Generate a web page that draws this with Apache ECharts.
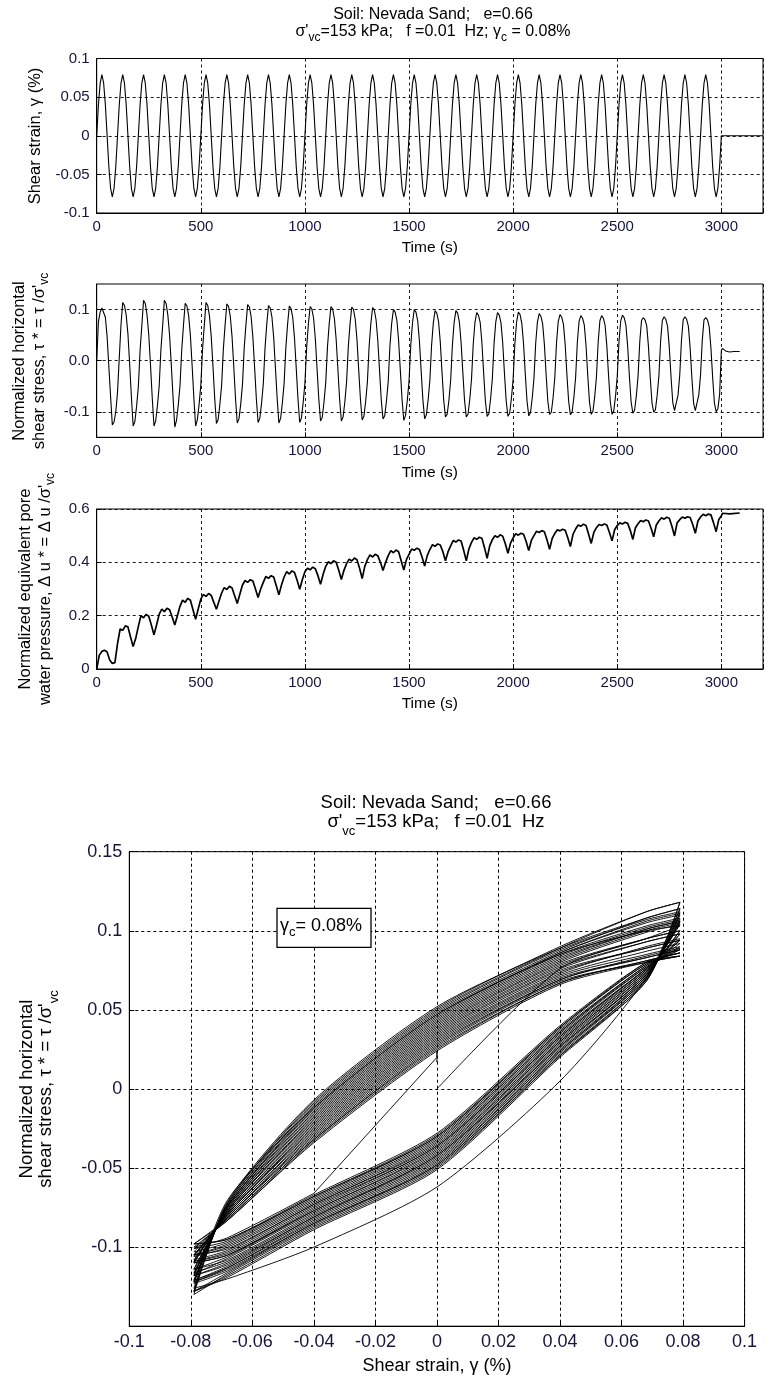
<!DOCTYPE html>
<html><head><meta charset="utf-8">
<script src="https://cdn.jsdelivr.net/npm/echarts@6/dist/echarts.min.js"></script>
<style>html,body{margin:0;padding:0;background:#fff}#c{width:766px;height:1381px}</style>
</head><body><div id="c"></div>
<script>
// ---------------- DATA ----------------
// start time (s) of each of the 30 loading cycles (f = 0.01 Hz)
const cycleStart = [0,100,200,300,400,500,600,700,800,900,1000,1100,1200,1300,1400,1500,1600,1700,1800,1900,2000,2100,2200,2300,2400,2500,2600,2700,2800,2900];
// sampling instants inside one cycle (s) for strain / stress
const phaseTime = [0,8.33,16.67,25,33.33,41.67,50,58.33,66.67,75,83.33,91.67];
// shear strain (%) at those instants (strain-controlled, same every cycle)
const strainCycle = [0,0.040,0.068,0.079,0.068,0.040,0,-0.040,-0.068,-0.079,-0.068,-0.040];
// normalized shear stress at those instants, one row per cycle
const stressCycles = [
  [0.000,0.076,0.095,0.103,0.100,0.085,0.047,-0.012,-0.070,-0.126,-0.120,-0.100],
  [-0.062,0.005,0.070,0.114,0.108,0.089,0.052,-0.007,-0.071,-0.128,-0.119,-0.089],
  [-0.051,0.020,0.068,0.118,0.112,0.090,0.051,-0.008,-0.072,-0.128,-0.118,-0.088],
  [-0.050,0.021,0.068,0.118,0.112,0.089,0.050,-0.009,-0.072,-0.130,-0.117,-0.087],
  [-0.049,0.021,0.069,0.112,0.107,0.088,0.049,-0.010,-0.073,-0.128,-0.116,-0.086],
  [-0.048,0.022,0.069,0.114,0.108,0.087,0.048,-0.011,-0.073,-0.123,-0.115,-0.085],
  [-0.048,0.023,0.070,0.111,0.106,0.086,0.047,-0.012,-0.074,-0.122,-0.114,-0.085],
  [-0.047,0.024,0.070,0.110,0.105,0.086,0.046,-0.013,-0.074,-0.121,-0.113,-0.084],
  [-0.046,0.024,0.071,0.108,0.103,0.085,0.045,-0.014,-0.074,-0.122,-0.113,-0.083],
  [-0.045,0.025,0.071,0.107,0.102,0.084,0.044,-0.015,-0.075,-0.121,-0.112,-0.082],
  [-0.044,0.026,0.072,0.106,0.101,0.083,0.043,-0.016,-0.075,-0.118,-0.111,-0.081],
  [-0.043,0.027,0.072,0.106,0.101,0.082,0.042,-0.017,-0.076,-0.118,-0.110,-0.081],
  [-0.042,0.027,0.072,0.105,0.100,0.081,0.041,-0.018,-0.076,-0.116,-0.109,-0.080],
  [-0.042,0.028,0.073,0.104,0.099,0.080,0.040,-0.019,-0.077,-0.114,-0.108,-0.079],
  [-0.041,0.029,0.073,0.100,0.095,0.079,0.039,-0.020,-0.077,-0.117,-0.107,-0.078],
  [-0.040,0.030,0.074,0.100,0.095,0.078,0.038,-0.021,-0.077,-0.114,-0.106,-0.077],
  [-0.039,0.030,0.074,0.098,0.093,0.077,0.037,-0.022,-0.078,-0.110,-0.105,-0.077],
  [-0.038,0.031,0.075,0.098,0.093,0.076,0.036,-0.023,-0.078,-0.110,-0.105,-0.076],
  [-0.037,0.032,0.075,0.094,0.089,0.075,0.035,-0.024,-0.079,-0.109,-0.104,-0.075],
  [-0.036,0.033,0.076,0.094,0.089,0.074,0.034,-0.025,-0.079,-0.109,-0.103,-0.074],
  [-0.036,0.033,0.076,0.095,0.090,0.073,0.033,-0.026,-0.079,-0.108,-0.102,-0.073],
  [-0.035,0.034,0.076,0.092,0.087,0.072,0.032,-0.027,-0.080,-0.105,-0.101,-0.073],
  [-0.034,0.035,0.077,0.090,0.085,0.071,0.031,-0.028,-0.080,-0.106,-0.100,-0.072],
  [-0.033,0.036,0.077,0.088,0.083,0.070,0.030,-0.029,-0.081,-0.105,-0.099,-0.071],
  [-0.032,0.036,0.078,0.088,0.083,0.069,0.029,-0.030,-0.081,-0.105,-0.098,-0.070],
  [-0.031,0.037,0.078,0.089,0.084,0.069,0.028,-0.031,-0.081,-0.103,-0.097,-0.069],
  [-0.030,0.038,0.079,0.084,0.080,0.068,0.027,-0.032,-0.082,-0.101,-0.096,-0.068],
  [-0.030,0.039,0.079,0.086,0.081,0.067,0.026,-0.032,-0.082,-0.098,-0.095,-0.068],
  [-0.029,0.039,0.080,0.086,0.081,0.067,0.025,-0.033,-0.083,-0.098,-0.095,-0.067],
  [-0.028,0.040,0.080,0.084,0.080,0.066,0.024,-0.034,-0.083,-0.100,-0.094,-0.066]
];
// sampling instants inside one cycle (s) for pore pressure
const porePhaseTime = [0,12.5,25,37.5,50,62.5,75,87.5];
// normalized equivalent pore water pressure at those instants, one row per cycle
const poreCycles = [
  [0.000,0.052,0.066,0.070,0.064,0.034,0.021,0.024],
  [0.095,0.150,0.145,0.162,0.158,0.120,0.084,0.115],
  [0.160,0.200,0.192,0.205,0.198,0.165,0.128,0.165],
  [0.205,0.225,0.215,0.228,0.222,0.195,0.165,0.200],
  [0.235,0.258,0.250,0.265,0.258,0.222,0.186,0.225],
  [0.262,0.280,0.272,0.283,0.276,0.250,0.224,0.255],
  [0.285,0.305,0.298,0.310,0.304,0.275,0.246,0.280],
  [0.315,0.332,0.325,0.335,0.330,0.300,0.268,0.300],
  [0.325,0.347,0.340,0.350,0.345,0.312,0.278,0.315],
  [0.345,0.365,0.356,0.368,0.362,0.333,0.299,0.335],
  [0.365,0.378,0.372,0.382,0.376,0.350,0.318,0.355],
  [0.385,0.402,0.395,0.406,0.400,0.370,0.336,0.370],
  [0.395,0.412,0.405,0.416,0.410,0.378,0.339,0.385],
  [0.410,0.428,0.420,0.430,0.425,0.400,0.369,0.400],
  [0.425,0.444,0.436,0.446,0.440,0.405,0.371,0.410],
  [0.430,0.450,0.445,0.453,0.448,0.420,0.386,0.425],
  [0.448,0.466,0.460,0.469,0.465,0.440,0.406,0.440],
  [0.462,0.482,0.476,0.484,0.480,0.445,0.406,0.450],
  [0.475,0.492,0.486,0.494,0.490,0.455,0.415,0.462],
  [0.485,0.500,0.494,0.503,0.498,0.470,0.434,0.472],
  [0.492,0.507,0.502,0.509,0.505,0.478,0.444,0.482],
  [0.500,0.517,0.512,0.519,0.515,0.485,0.449,0.490],
  [0.508,0.522,0.518,0.524,0.520,0.492,0.459,0.505],
  [0.525,0.540,0.535,0.543,0.538,0.505,0.471,0.512],
  [0.530,0.542,0.538,0.544,0.540,0.512,0.481,0.522],
  [0.538,0.548,0.544,0.550,0.546,0.520,0.486,0.530],
  [0.545,0.557,0.552,0.559,0.555,0.528,0.496,0.540],
  [0.555,0.567,0.562,0.569,0.565,0.535,0.499,0.548],
  [0.560,0.570,0.565,0.571,0.568,0.542,0.509,0.555],
  [0.570,0.580,0.575,0.581,0.578,0.548,0.515,0.560]
];
// after the last cycle (t >= 3000 s)
const strainTail = [[3000,0],[3200,0]];
const stressTail = [[3000,0.020],[3005,0.024],[3020,0.019],[3040,0.017],[3060,0.018],[3088,0.018]];
const poreTail = [[3000,0.575],[3006,0.584],[3040,0.582],[3088,0.585]];
// tick values
const stressTicks = [-0.1,0,0.1];

// ---------------- build series tables ----------------
const strainSeries = [], stressSeries = [], poreSeries = [], loopSeries = [];
cycleStart.forEach((t0,k) => {
  phaseTime.forEach((dt,j) => {
    strainSeries.push([t0 + dt, strainCycle[j]]);
    stressSeries.push([t0 + dt, stressCycles[k][j]]);
    loopSeries.push([strainCycle[j], stressCycles[k][j]]);
  });
  porePhaseTime.forEach((dt,j) => poreSeries.push([t0 + dt, poreCycles[k][j]]));
});
const loopTailSeries = [loopSeries[loopSeries.length - 1]];
strainTail.forEach(p => strainSeries.push(p));
stressTail.forEach(p => { stressSeries.push(p); loopTailSeries.push([strainTail[0][1], p[1]]); });
poreTail.forEach(p => poreSeries.push(p));

// ---------------- styling ----------------
const FONT = '"Liberation Sans", Arial, sans-serif';
const LBL = '#15153d';
const fmt = v => String(parseFloat(v.toFixed(3)));
const gridLine = (w) => ({show:true, lineStyle:{color:'#000', type:[3,3], width:w||0.9}});
const axisLineS = {show:true, onZero:false, lineStyle:{color:'#000', width:1}};
const tickS = {show:true, inside:true, length:5, lineStyle:{color:'#000'}};

function timeX(i){
  return {gridIndex:i, type:'value', min:0, max:3200, interval:500,
    axisLine:axisLineS, axisTick:tickS,
    axisLabel:{margin:6, color:LBL, fontFamily:FONT, fontSize:15, formatter:v => v>3000 ? '' : String(v)},
    splitLine:gridLine(),
    name:'Time (s)', nameLocation:'middle', nameGap:27,
    nameTextStyle:{color:'#000', fontFamily:FONT, fontSize:15.5}};
}

const option = {
  animation:false,
  backgroundColor:'#fff',
  grid:[
    {left:96.7, width:672.3, top:58.5, height:154.5, show:true, borderColor:'#000', borderWidth:1},
    {left:96.7, width:672.3, top:284, height:153.3, show:true, borderColor:'#000', borderWidth:1},
    {left:96.7, width:672.3, top:509, height:160, show:true, borderColor:'#000', borderWidth:1},
    {left:129.3, width:615.3, top:851.7, height:474.5, show:true, borderColor:'#000', borderWidth:1}
  ],
  xAxis:[
    timeX(0), timeX(1), timeX(2),
    {gridIndex:3, type:'value', min:-0.1, max:0.1, interval:0.02,
      axisLine:axisLineS, axisTick:tickS,
      axisLabel:{margin:7, color:LBL, fontFamily:FONT, fontSize:18, formatter:fmt},
      splitLine:gridLine(1),
      name:'Shear strain, γ (%)', nameLocation:'middle', nameGap:31,
      nameTextStyle:{color:'#000', fontFamily:FONT, fontSize:18}}
  ],
  yAxis:[
    {gridIndex:0, type:'value', min:-0.1, max:0.1, interval:0.05,
      axisLine:axisLineS, axisTick:tickS,
      axisLabel:{margin:7, color:LBL, fontFamily:FONT, fontSize:15, formatter:fmt},
      splitLine:gridLine()},
    {gridIndex:1, type:'value', min:-0.15, max:0.15, interval:0.05,
      axisLine:axisLineS, axisTick:Object.assign({customValues:stressTicks}, tickS),
      axisLabel:{margin:7, color:LBL, fontFamily:FONT, fontSize:15, customValues:stressTicks,
        formatter:v => v.toFixed(1)},
      splitLine:{show:false}},
    {gridIndex:2, type:'value', min:0, max:0.6, interval:0.2,
      axisLine:axisLineS, axisTick:tickS,
      axisLabel:{margin:7, color:LBL, fontFamily:FONT, fontSize:15, formatter:fmt},
      splitLine:gridLine()},
    {gridIndex:3, type:'value', min:-0.15, max:0.15, interval:0.05,
      axisLine:axisLineS, axisTick:tickS,
      axisLabel:{margin:7, color:LBL, fontFamily:FONT, fontSize:18,
        formatter:v => v < -0.14 ? '' : fmt(v)},
      splitLine:gridLine(1)}
  ],
  series:[
    {type:'line', xAxisIndex:0, yAxisIndex:0, data:strainSeries, showSymbol:false, symbol:'none',
      lineStyle:{color:'#000', width:1.1}, z:3},
    {type:'line', xAxisIndex:1, yAxisIndex:1, data:stressSeries, showSymbol:false, symbol:'none',
      lineStyle:{color:'#000', width:1.1}, z:3,
      markLine:{silent:true, symbol:'none', animation:false, label:{show:false},
        lineStyle:{color:'#000', type:[3,3], width:0.9},
        data:stressTicks.map(v => ({yAxis:v}))}},
    {type:'line', xAxisIndex:2, yAxisIndex:2, data:poreSeries, showSymbol:false, symbol:'none',
      lineStyle:{color:'#000', width:1.7}, z:3},
    {type:'line', xAxisIndex:3, yAxisIndex:3, data:loopSeries, showSymbol:false, symbol:'none',
      smooth:0.25, lineStyle:{color:'#000', width:0.9}, z:3},
    {type:'line', xAxisIndex:3, yAxisIndex:3, data:loopTailSeries, showSymbol:false, symbol:'none',
      lineStyle:{color:'#000', width:0.9}, z:3}
  ],
  graphic:[]
};

// ---------------- texts (titles, y-axis names, annotation) ----------------
function rich(sz, subSz, lh){
  return {
    n:{fontSize:sz, fontFamily:FONT, fill:'#000', color:'#000', lineHeight:lh},
    s:{fontSize:subSz, fontFamily:FONT, fill:'#000', color:'#000', lineHeight:subSz, verticalAlign:'bottom'}
  };
}
function txt(text, x, y, sz, subSz, lh, rot, align){
  return {type:'text', x:x, y:y, rotation:rot ? Math.PI/2 : 0, silent:true, z:10,
    style:{text:text, rich:rich(sz, subSz, lh), fontSize:sz, fontFamily:FONT, fill:'#000',
      align:align||'center', verticalAlign:'middle', textAlign:align||'center', textVerticalAlign:'middle'}};
}
const G = option.graphic;
// top titles
G.push(txt('{n|Soil: Nevada Sand;   e=0.66}', 433, 15, 16, 12, 18));
G.push(txt("{n|σ'}{s|vc}{n|=153 kPa;   f =0.01  Hz; γ}{s|c}{n| = 0.08%}", 433, 31.7, 16, 12, 24));
// y names of time panels
G.push(txt('{n|Shear strain, γ (%)}', 35, 136, 16.5, 12, 18, true));
G.push(txt('{n|Normalized horizontal}', 19, 361, 16.5, 12, 18, true));
G.push(txt("{n|shear stress, τ * = τ /σ'}{s|vc}", 39, 361, 16.5, 12, 24, true));
G.push(txt('{n|Normalized equivalent pore}', 25, 589, 16.5, 12, 18, true));
G.push(txt("{n|water pressure, Δ u * = Δ u /σ'}{s|vc}", 45, 589, 16.5, 12, 24, true));
// bottom panel titles and y name
G.push(txt('{n|Soil: Nevada Sand;   e=0.66}', 436, 802.7, 18.5, 13, 22));
G.push(txt("{n|σ'}{s|vc}{n|=153 kPa;   f =0.01  Hz}", 436, 821.7, 18.5, 13, 32));
G.push(txt('{n|Normalized horizontal}', 27, 1089, 18.5, 13, 22, true));
G.push(txt("{n|shear stress, τ * = τ /σ'}{s|vc}", 46, 1089, 18.5, 13, 30, true));
// annotation box
G.push({type:'rect', shape:{x:277, y:908.3, width:94, height:39}, silent:true, z:9,
  style:{fill:'#fff', stroke:'#000', lineWidth:1.3}});
G.push(txt('{n|γ}{s|c}{n|= 0.08%}', 280, 925.7, 18, 13, 26, false, 'left'));

const chart = echarts.init(document.getElementById('c'), null, {renderer:'canvas'});
chart.setOption(option);
</script>
</body></html>
